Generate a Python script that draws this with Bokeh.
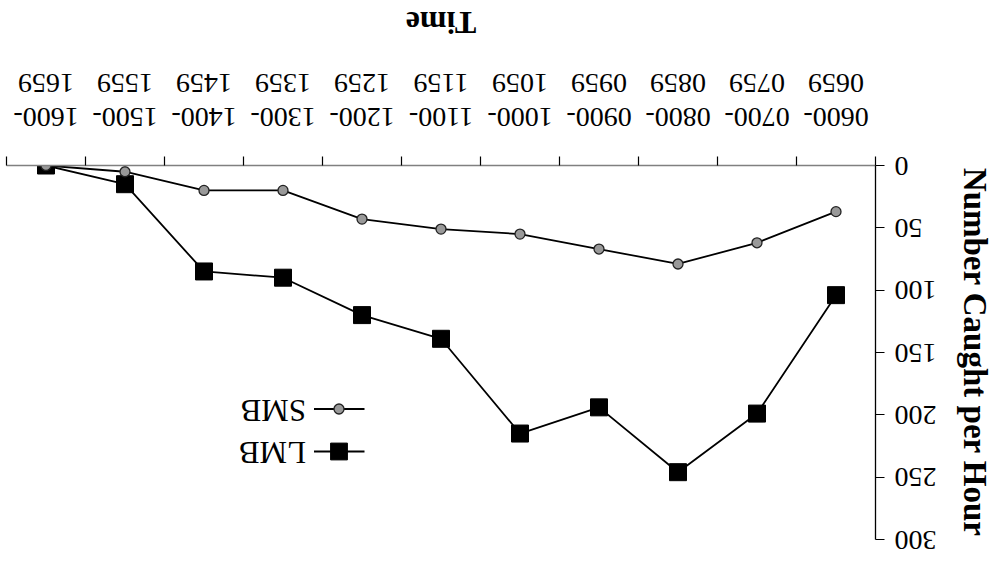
from bokeh.plotting import figure
from bokeh.models import Range1d, FixedTicker, Legend, LegendItem, ColumnDataSource
from bokeh.embed import file_html
from bokeh.resources import INLINE

# Hourly catch windows (x categories)
time_bins = ["0600-\n0659", "0700-\n0759", "0800-\n0859", "0900-\n0959",
             "1000-\n1059", "1100-\n1159", "1200-\n1259", "1300-\n1359",
             "1400-\n1459", "1500-\n1559", "1600-\n1659"]

# Number caught per hour for each species
smb = [37, 62, 79, 67, 55, 51, 43, 20, 20, 5, 0]
lmb = [104, 199, 246, 194, 215, 139, 120, 90, 85, 15, 0]

y_ticks = [0, 50, 100, 150, 200, 250, 300]

FONT = "Liberation Serif"

idx = list(range(len(time_bins)))
src = ColumnDataSource(dict(x=idx, smb=smb, lmb=lmb))

p = figure(width=997, height=561, output_backend="svg", toolbar_location=None,
           x_range=Range1d(-0.5, len(time_bins) - 0.5), y_range=Range1d(0, 300),
           min_border_left=121, min_border_right=7, min_border_top=21,
           min_border_bottom=166, outline_line_color=None,
           background_fill_color="white", border_fill_color="white",
           styles={"transform": "rotate(180deg)"})

p.xgrid.visible = False
p.ygrid.visible = False

# x axis: labels centred on each window, ticks on the window boundaries
xa = p.xaxis[0]
xa.ticker = FixedTicker(ticks=idx, minor_ticks=[i - 0.5 for i in range(len(time_bins) + 1)])
xa.major_label_overrides = {i: lbl for i, lbl in enumerate(time_bins)}
xa.major_tick_line_color = None
xa.major_tick_in = 0
xa.major_tick_out = 0
xa.minor_tick_line_color = "black"
xa.minor_tick_line_width = 1.2
xa.minor_tick_in = 0
xa.minor_tick_out = 9
xa.axis_line_color = "#808080"
xa.axis_line_width = 1.6
xa.major_label_text_font = FONT
xa.major_label_text_font_size = "28px"
xa.major_label_text_color = "black"
xa.major_label_text_line_height = 1.08
xa.major_label_standoff = 24
xa.axis_label = "Time"
xa.axis_label_text_font = FONT
xa.axis_label_text_font_style = "bold"
xa.axis_label_text_font_size = "32px"
xa.axis_label_text_color = "black"
xa.axis_label_standoff = 24

ya = p.yaxis[0]
ya.ticker = FixedTicker(ticks=y_ticks)
ya.minor_tick_line_color = None
ya.major_tick_in = 0
ya.major_tick_out = 9
ya.major_tick_line_color = "black"
ya.major_tick_line_width = 1.2
ya.axis_line_color = "black"
ya.axis_line_width = 1.3
ya.major_label_text_font = FONT
ya.major_label_text_font_size = "28px"
ya.major_label_text_color = "black"
ya.major_label_standoff = 10
ya.axis_label = "Number Caught per Hour"
ya.axis_label_text_font = FONT
ya.axis_label_text_font_style = "bold"
ya.axis_label_text_font_size = "33px"
ya.axis_label_text_color = "black"
ya.axis_label_standoff = 17

# LMB series
lmb_line = p.line("x", "lmb", source=src, line_color="black", line_width=1.8)
lmb_pts = p.scatter("x", "lmb", source=src, marker="square", size=17,
                    fill_color="black", line_color="black")

# SMB series
smb_line = p.line("x", "smb", source=src, line_color="black", line_width=1.8)
smb_pts = p.scatter("x", "smb", source=src, marker="circle", size=10,
                    fill_color="#999999", line_color="#222222", line_width=1.3)


def make_legend(label, renderers, loc, gh):
    return Legend(items=[LegendItem(label=label, renderers=renderers)],
                  location=loc, glyph_width=51, glyph_height=gh,
                  label_height=gh, label_standoff=8, padding=0, margin=0,
                  spacing=0, border_line_color=None, background_fill_alpha=0,
                  label_text_font=FONT, label_text_font_size="31px",
                  label_text_color="black")


p.add_layout(make_legend("LMB", [lmb_line, lmb_pts], (511, 265), 42))
p.add_layout(make_legend("SMB", [smb_line, smb_pts], (511, 226), 25))

open("out.html", "w").write(file_html(p, INLINE))
